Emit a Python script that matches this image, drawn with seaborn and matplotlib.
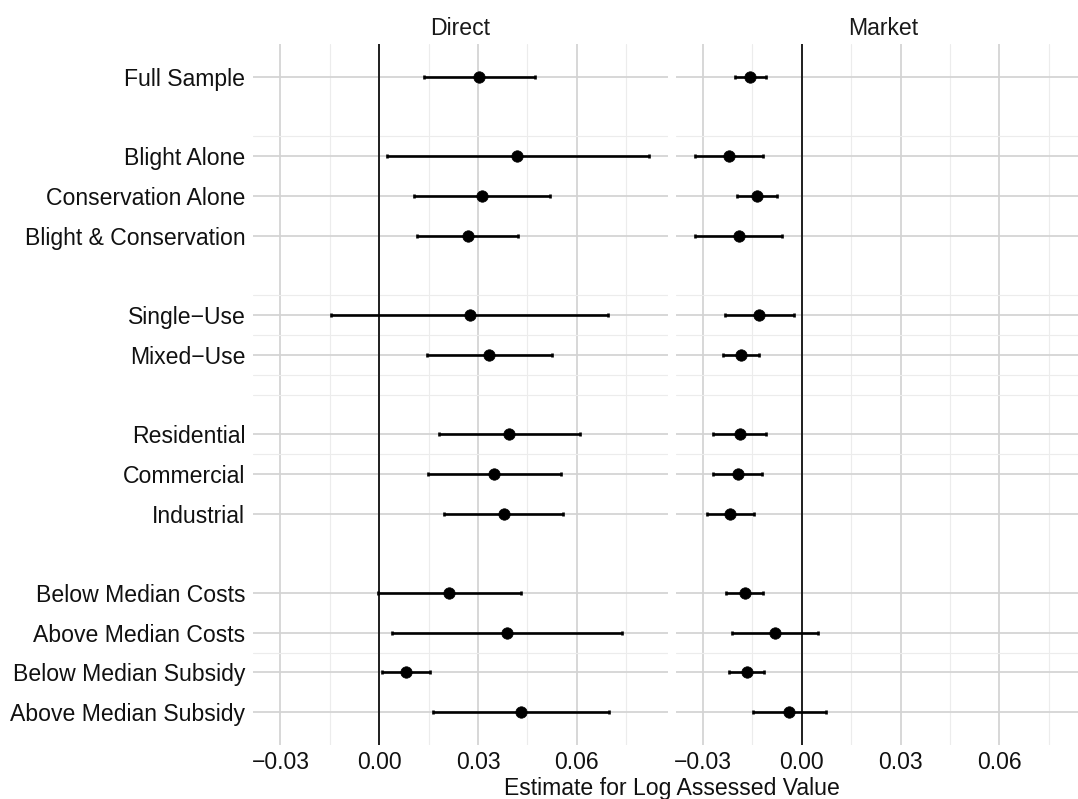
import numpy as np
import pandas as pd
import matplotlib
matplotlib.use("Agg")
import matplotlib.pyplot as plt
import seaborn as sns
from matplotlib.ticker import FuncFormatter

# ---- data -------------------------------------------------------------
rows = ["Full Sample", "", "Blight Alone", "Conservation Alone",
        "Blight & Conservation", "", "Single\u2212Use", "Mixed\u2212Use", "",
        "Residential", "Commercial", "Industrial", "",
        "Below Median Costs", "Above Median Costs",
        "Below Median Subsidy", "Above Median Subsidy"]
categories = [r for r in rows if r]
panels = ["Direct", "Market"]

direct_est = [0.0304, 0.0420, 0.0311, 0.0269, 0.0275, 0.0335, 0.0394,
              0.0349, 0.0378, 0.0213, 0.0387, 0.0082, 0.0431]
direct_low = [0.0137, 0.0023, 0.0105, 0.0115, -0.0145, 0.0145, 0.0181,
              0.0147, 0.0198, -0.0003, 0.0040, 0.0009, 0.0164]
direct_high = [0.0474, 0.0819, 0.0518, 0.0423, 0.0696, 0.0525, 0.0609,
               0.0551, 0.0558, 0.0430, 0.0736, 0.0155, 0.0698]

market_est = [-0.0158, -0.0222, -0.0137, -0.0192, -0.0129, -0.0184, -0.0189,
              -0.0195, -0.0218, -0.0173, -0.0082, -0.0168, -0.0038]
market_low = [-0.0204, -0.0326, -0.0198, -0.0324, -0.0233, -0.0239, -0.0271,
              -0.0269, -0.0289, -0.0230, -0.0212, -0.0221, -0.0149]
market_high = [-0.0110, -0.0117, -0.0076, -0.0061, -0.0025, -0.0129, -0.0108,
               -0.0121, -0.0144, -0.0117, 0.0050, -0.0116, 0.0074]

x_major = [-0.03, 0.0, 0.03, 0.06]
x_minor = [-0.015, 0.015, 0.045, 0.075]
y_minor = [1.5, 5.5, 6.5, 7.5, 8.0, 9.5, 14.5]

df = pd.concat([
    pd.DataFrame({"panel": "Direct", "category": categories,
                  "est": direct_est, "low": direct_low, "high": direct_high}),
    pd.DataFrame({"panel": "Market", "category": categories,
                  "est": market_est, "low": market_low, "high": market_high}),
], ignore_index=True)
df["pos"] = df["category"].map({c: rows.index(c) for c in categories})

# ---- style ------------------------------------------------------------
sns.set_theme(style="white")
plt.rcParams["font.family"] = ["Liberation Sans", "DejaVu Sans"]
FS = 16.6
TXT = "#111111"

W, H = 1078, 799
fig = plt.figure(figsize=(W / 100, H / 100), dpi=100)
pw = 414.7
ptop, pbot = 44, 745
axes = [fig.add_axes([253 / W, 1 - pbot / H, pw / W, (pbot - ptop) / H]),
        fig.add_axes([675.7 / W, 1 - pbot / H, pw / W, (pbot - ptop) / H])]

lo = min(df["low"].min(), df["est"].min())
hi = max(df["high"].max(), df["est"].max())
pad = 0.05 * (hi - lo)
nrow = len(rows) - 1
ypad = 0.83

label_pos = [rows.index(c) for c in categories]

for ax, panel in zip(axes, panels):
    sub = df[df["panel"] == panel]
    ax.set_axisbelow(True)
    ax.errorbar(sub["est"], sub["pos"],
                xerr=[sub["est"] - sub["low"], sub["high"] - sub["est"]],
                fmt="none", ecolor="black", elinewidth=1.9,
                capsize=1.4, capthick=1.9, zorder=3)
    sns.scatterplot(data=sub, x="est", y="pos", ax=ax, color="black",
                    s=68, edgecolor="black", linewidth=0.5, zorder=4,
                    legend=False)
    ax.axvline(0, color="black", lw=1.2, zorder=2.5)

    ax.set_xlim(lo - pad, hi + pad)
    ax.set_ylim(nrow + ypad, -ypad)
    ax.set_xticks(x_major)
    ax.set_xticks(x_minor, minor=True)
    ax.set_yticks(label_pos)
    ax.set_yticks(y_minor, minor=True)
    ax.xaxis.set_major_formatter(
        FuncFormatter(lambda v, p: f"{v:.2f}".replace("-", "\u2212")))
    ax.grid(which="major", color="#D3D3D3", lw=1.25)
    ax.grid(which="minor", color="#ECECEC", lw=0.8)
    for s in ax.spines.values():
        s.set_visible(False)
    ax.set_xlabel("")
    ax.set_ylabel("")
    ax.tick_params(axis="x", which="both", length=0, pad=4.2,
                   labelsize=FS, labelcolor=TXT)
    ax.tick_params(axis="y", which="minor", length=0)
    ax.text(0.5, 1 + 9 / (pbot - ptop), panel, transform=ax.transAxes,
            ha="center", va="baseline", fontsize=FS, color="#1a1a1a")

axes[0].set_yticklabels(categories)
axes[0].tick_params(axis="y", which="major", length=3, width=1.0,
                    color="#D3D3D3", pad=2.5, labelsize=FS, labelcolor=TXT)
axes[1].set_yticklabels([])
axes[1].tick_params(axis="y", which="major", length=0)

fig.text(671.7 / W, 1 - 795.5 / H, "Estimate for Log Assessed Value",
         ha="center", va="baseline", fontsize=FS, color=TXT)

fig.savefig("out.png", dpi=100)
